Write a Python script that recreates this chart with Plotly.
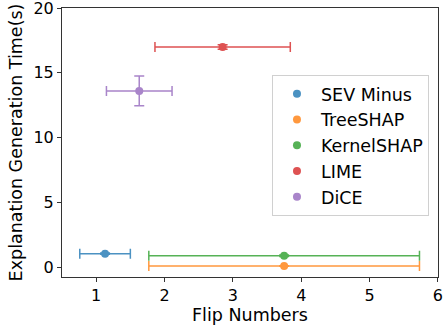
import plotly.graph_objects as go

methods = ["SEV Minus", "TreeSHAP", "KernelSHAP", "LIME", "DiCE"]
colors = ["#1f77b4", "#ff7f0e", "#2ca02c", "#d62728", "#9467bd"]
flip_mean = [1.13, 3.75, 3.75, 2.85, 1.63]
flip_err = [0.37, 1.98, 1.98, 0.99, 0.48]
time_mean = [1.03, 0.08, 0.87, 17.0, 13.6]
time_err = [0.05, 0.02, 0.05, 0.18, 1.15]

fig = go.Figure()
for m, c, x, xe, y, ye in zip(methods, colors, flip_mean, flip_err, time_mean, time_err):
    fig.add_trace(go.Scatter(
        x=[x], y=[y], mode="markers", name=m,
        marker=dict(color=c, size=8),
        error_x=dict(type="data", array=[xe], color=c, thickness=1.5, width=5),
        error_y=dict(type="data", array=[ye], color=c, thickness=1.5, width=5),
        opacity=0.8,
    ))

axis_common = dict(
    showline=True, linecolor="#333333", linewidth=1, mirror=True,
    ticks="outside", ticklen=4, tickcolor="#333333", showgrid=False, zeroline=False,
    tickfont=dict(size=16, color="black"),
    title_font=dict(size=17.5, color="black"),
    ticklabeloverflow="allow", automargin=False,
)
fig.update_xaxes(range=[0.5, 6.001], dtick=1, title_text="Flip Numbers", title_standoff=4, **axis_common)
fig.update_yaxes(range=[-0.77, 20.01], dtick=5, title_text="Explanation Generation Time(s)", title_standoff=6, **axis_common)

fig.update_layout(
    width=445, height=328,
    margin=dict(l=62, r=7, t=8, b=51),
    plot_bgcolor="white", paper_bgcolor="white",
    font=dict(family="DejaVu Sans", color="black"),
    showlegend=True,
    legend=dict(x=0.976, y=0.751, xanchor="right", yanchor="top",
                bgcolor="white", bordercolor="#d0d0d0", borderwidth=1,
                font=dict(size=17.5), itemwidth=38),
)
fig.write_html("out.html")
